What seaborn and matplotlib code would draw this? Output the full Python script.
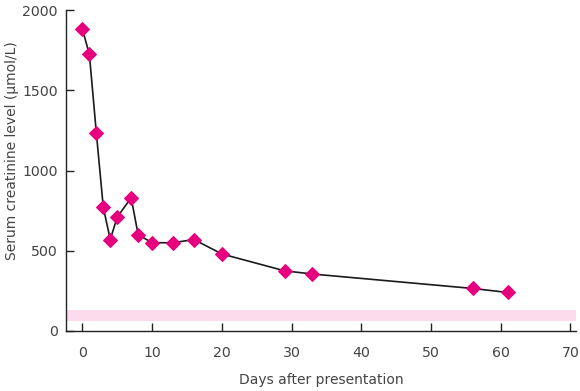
import matplotlib
matplotlib.use("Agg")
import matplotlib.pyplot as plt
import seaborn as sns
import pandas as pd

days = [0, 1, 2, 3, 4, 5, 7, 8, 10, 13, 16, 20, 29, 33, 56, 61]
creatinine = [1880, 1725, 1235, 770, 570, 710, 830, 600, 550, 550, 570, 480, 375, 355, 265, 240]
normal_low, normal_high = 62, 130
x_ticks = [0, 10, 20, 30, 40, 50, 60, 70]
y_ticks = [0, 500, 1000, 1500, 2000]

df = pd.DataFrame({"day": days, "creat": creatinine})

sns.set_style("ticks")
plt.rcParams['font.family'] = ['DejaVu Sans']

fig = plt.figure(figsize=(5.8, 3.91), dpi=100)
ax = fig.add_axes([66/580, 1-331/391, (576-66)/580, (331-10)/391])

ax.axhspan(normal_low, normal_high, color="#fcdcec", lw=0, zorder=0)
sns.lineplot(data=df, x="day", y="creat", ax=ax, color="#1a1a1a", lw=1.2,
             marker="D", markersize=7, markerfacecolor="#e6007e",
             markeredgecolor="#e6007e", zorder=3)

ax.set_xlim(-2.35, 70.8)
ax.set_ylim(0, 2000)
ax.set_xticks(x_ticks)
ax.set_yticks(y_ticks)
ax.tick_params(direction="in", length=6, width=1, colors="#222222",
               labelsize=10.2, labelcolor="#444444")
ax.tick_params(axis="x", pad=11)
ax.tick_params(axis="y", pad=6)
for s in ["top", "right"]:
    ax.spines[s].set_visible(False)
for s in ["left", "bottom"]:
    ax.spines[s].set_linewidth(1)
    ax.spines[s].set_color("#222222")
ax.set_xlabel("Days after presentation", fontsize=10, color="#444444", labelpad=9)
ax.set_ylabel("Serum creatinine level (µmol/L)", fontsize=10, color="#444444")
ax.yaxis.set_label_coords(-0.092, 0.561)

fig.savefig("out.png", dpi=100)
